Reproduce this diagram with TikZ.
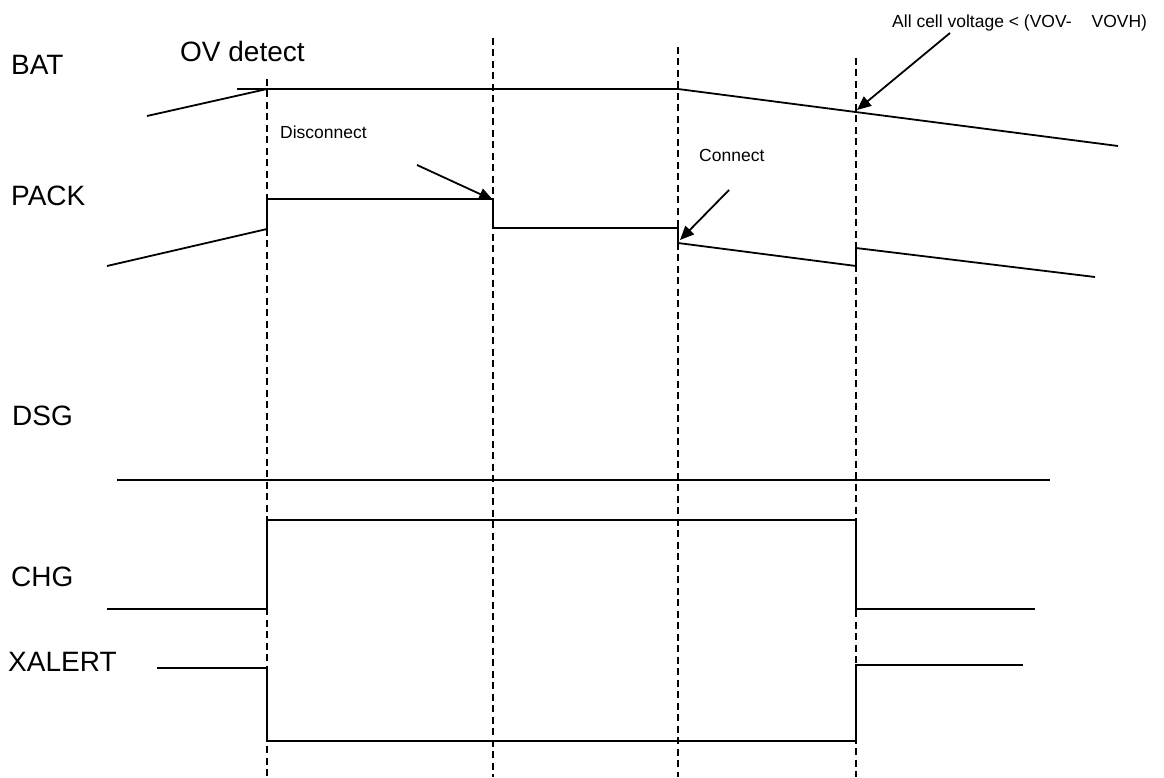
\documentclass[tikz,border=0pt]{standalone}
\usepackage{fontspec}
\setmainfont{Liberation Sans}
\usetikzlibrary{arrows.meta}
\begin{document}
\begin{tikzpicture}[x=1pt,y=-1pt,
  signal/.style={line width=1.8pt,line join=miter},
  marker/.style={line width=1.5pt,dash pattern=on 7pt off 4.5pt},
  callout/.style={line width=1.8pt,-{Triangle[length=14pt,width=12pt]}},
  siglabel/.style={anchor=base west,inner sep=0pt,font=\fontsize{28}{28}\selectfont},
  note/.style={anchor=base west,inner sep=0pt,font=\fontsize{17.5}{17.5}\selectfont}]
\useasboundingbox (0,0) rectangle (1164,778);

% signal names
\node[siglabel] (bat) at (11,75) {BAT};
\node[siglabel] (ov) at (180,62) {OV detect};
\node[siglabel] (pack) at (11,205) {PACK};
\node[siglabel] (dsg) at (12,425) {DSG};
\node[siglabel] (chg) at (11,586) {CHG};
\node[siglabel] (xalert) at (8,671) {XALERT};

% event annotations
\node[note] (disc) at (280,139) {Disconnect};
\node[note] (conn) at (699,162) {Connect};
\node[note] (rel) at (892,28) {All cell voltage < (VOV-\hspace{20pt}VOVH)};

% event time markers
\draw[marker] (267,79) -- (267,777);
\draw[marker] (493,38) -- (493,777);
\draw[marker] (678,47) -- (678,777);
\draw[marker] (856,58) -- (856,777);

% BAT
\draw[signal] (147,116) -- (267,89);
\draw[signal] (237,89) -- (678,89) -- (1118,146);

% PACK
\draw[signal] (107,266) -- (267,229) -- (267,199) -- (493,199) -- (493,228)
  -- (678,228) -- (678,243) -- (856,266) -- (856,248) -- (1095,277);

% DSG
\draw[signal] (117,480) -- (1050,480);

% CHG
\draw[signal] (107,609) -- (267,609) -- (267,520) -- (856,520) -- (856,609) -- (1035,609);

% XALERT
\draw[signal] (157,668) -- (267,668) -- (267,741) -- (856,741) -- (856,665) -- (1023,665);

% callout arrows
\coordinate (discfrom) at (417,165);
\coordinate (discto) at (493,200);
\coordinate (connfrom) at (729,190);
\coordinate (connto) at (680,240);
\coordinate (relfrom) at (950,33);
\coordinate (relto) at (857,110);
\draw[callout] (discfrom) -- (discto);
\draw[callout] (connfrom) -- (connto);
\draw[callout] (relfrom) -- (relto);
\end{tikzpicture}
\end{document}
